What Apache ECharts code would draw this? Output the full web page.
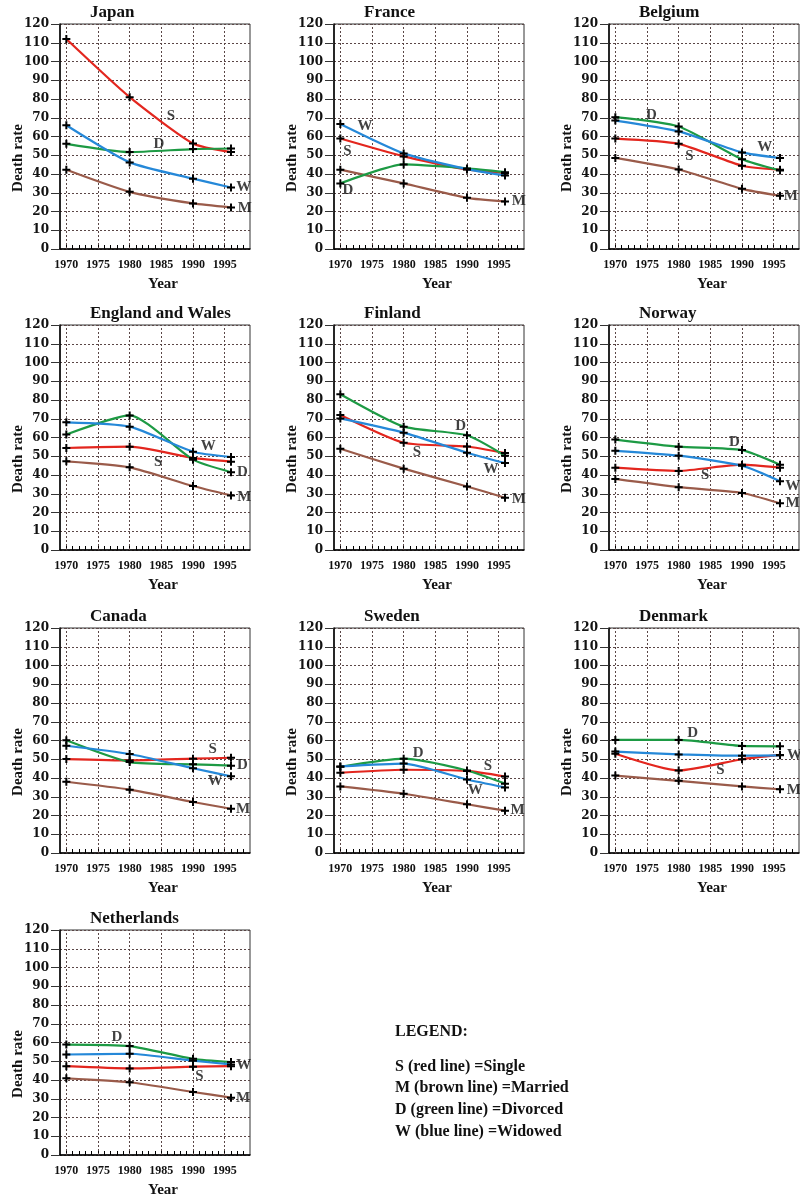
<!DOCTYPE html>
<html>
<head>
<meta charset="utf-8">
<title>Death rate by marital status</title>
<script src="https://cdn.jsdelivr.net/npm/echarts@6.0.0/dist/echarts.min.js"></script>
<style>
  html, body { margin: 0; padding: 0; background: #fff; }
  #chart { width: 800px; height: 1196px; }
</style>
</head>
<body>
<div id="chart"></div>
<script>
var years = [1970, 1980, 1990, 1996];
var yearLabels = [1970, 1975, 1980, 1985, 1990, 1995];
var countries = ['Japan', 'France', 'Belgium', 'England and Wales', 'Finland',
                 'Norway', 'Canada', 'Sweden', 'Denmark', 'Netherlands'];

var single = [
  [112, 81, 56.3, 51.7], [58.9, 49.4, 42.4, 40.5], [58.9, 56.1, 44.4, 42.3],
  [54.4, 55.1, 49.1, 47.1], [72, 57.2, 55.2, 51.7], [43.9, 42.2, 45.5, 43.9],
  [50.1, 49.4, 50.3, 50.8], [42.8, 44.4, 43.8, 40.8], [52.9, 44, 50, 52.3],
  [47.4, 46.2, 47.1, 47.4]
];
var married = [
  [42.3, 30.5, 24.3, 22.2], [42.3, 35, 27.3, 25.4], [48.6, 42.4, 32.1, 28.4],
  [47.3, 44.1, 34.1, 29.1], [54, 43.4, 33.9, 27.9], [37.9, 33.5, 30.4, 24.9],
  [38, 33.8, 27.2, 23.6], [35.5, 31.6, 26, 22.6], [41.3, 38.5, 35.5, 34],
  [40.9, 38.8, 33.6, 30.6]
];
var divorced = [
  [56.1, 51.7, 53.3, 53.6], [35, 45.1, 43, 41], [70.3, 65.3, 47.9, 41.9],
  [61.6, 71.8, 48.2, 41.5], [83.1, 65.8, 61.2, 50.3], [58.9, 55.1, 53.3, 45.5],
  [60.1, 48.5, 47.3, 46.6], [46, 50.3, 44, 37], [60.3, 60.3, 57.1, 56.9],
  [58.9, 58.1, 51.3, 49.6]
];
var widowed = [
  [66, 46.2, 37.5, 32.8], [66.7, 51, 42.6, 39.2], [68.5, 62.7, 51.5, 48.5],
  [68.1, 65.8, 52.4, 49.6], [70.2, 62.6, 51.9, 46.4], [52.9, 50.3, 45, 36.7],
  [57.2, 52.8, 45.2, 40.9], [46.2, 47.7, 39.2, 35], [54.1, 52.6, 51.9, 52.1],
  [53.6, 54, 50.3, 48.3]
];

var legendLines = ['S (red line) =Single', 'M (brown line) =Married',
                   'D (green line) =Divorced', 'W (blue line) =Widowed'];

// where the S/M/D/W letters sit in each panel (year, rate)
var tagPos = [
  [['S', 1986.5, 70.7], ['D', 1984.6, 56.1], ['W', 1998, 32.8], ['M', 1998.2, 21.8]],
  [['W', 1973.9, 65.7], ['S', 1971.1, 52], ['D', 1971.2, 31.2], ['M', 1998.2, 25.4]],
  [['D', 1975.7, 71.2], ['W', 1993.6, 54.3], ['S', 1981.7, 49.4], ['M', 1997.7, 28]],
  [['W', 1992.4, 55.2], ['S', 1984.5, 47.1], ['D', 1997.8, 41.5], ['M', 1998.1, 28.4]],
  [['D', 1989, 66.2], ['S', 1982.1, 52.4], ['W', 1993.8, 43.2], ['M', 1998.2, 27.4]],
  [['D', 1988.8, 57.7], ['S', 1984.2, 39.7], ['W', 1998, 34.1], ['M', 1998, 25.2]],
  [['S', 1993.1, 55.5], ['D', 1997.8, 46.8], ['W', 1993.5, 38.2], ['M', 1997.9, 23.6]],
  [['D', 1982.3, 53.4], ['S', 1993.3, 46.3], ['W', 1991.3, 33.4], ['M', 1998, 22.8]],
  [['D', 1982.2, 64.1], ['S', 1986.6, 44], ['W', 1998.3, 52.1], ['M', 1998.2, 33.7]],
  [['D', 1978, 62.8], ['S', 1991, 42.1], ['W', 1998, 48], ['M', 1997.9, 30.3]]
];

var serif = '"Liberation Serif", "Times New Roman", serif';
var wideSerif = '"DejaVu Serif", serif';
var colLeft = [60, 334, 609];
var rowTop = [24, 325, 628, 930];
var plotW = 190, plotH = 225;
var plus = 'path://M3,0L5,0L5,3L8,3L8,5L5,5L5,8L3,8L3,5L0,5L0,3L3,3Z';

var kinds = [
  { name: 'Single', data: single, color: '#e3261e' },
  { name: 'Married', data: married, color: '#9a5b4a' },
  { name: 'Divorced', data: divorced, color: '#1d9a44' },
  { name: 'Widowed', data: widowed, color: '#2588d8' }
];

var minorYears = [];
for (var yr = 1970; yr <= 1998; yr++) minorYears.push(yr);

var grids = [], xAxes = [], yAxes = [], series = [], titles = [], texts = [];

countries.forEach(function (country, i) {
  var L = colLeft[i % 3], T = rowTop[Math.floor(i / 3)];

  grids.push({ left: L, top: T, width: plotW, height: plotH, show: true,
               borderColor: '#333', borderWidth: 1 });
  xAxes.push({
    gridIndex: i, type: 'value', min: 1969, max: 1999,
    axisLine: { show: true, onZero: false, lineStyle: { color: '#000', width: 1.5 } },
    axisTick: { show: true, inside: true, length: 4, customValues: minorYears,
                lineStyle: { color: '#000' } },
    axisLabel: { customValues: yearLabels, margin: 10, fontFamily: serif, fontWeight: 'bold',
                 fontSize: 12, color: '#111', formatter: function (v) { return String(v); } },
    splitLine: { show: false }
  });
  yAxes.push({
    gridIndex: i, type: 'value', min: 0, max: 120, interval: 10,
    axisLine: { show: true, lineStyle: { color: '#000', width: 1.5 } },
    axisTick: { show: true, length: 9, lineStyle: { color: '#333' } },
    axisLabel: { margin: 11, fontFamily: wideSerif, fontWeight: 'bold', fontSize: 12, color: '#111' },
    splitLine: { show: true, lineStyle: { color: '#5a4646', type: [2, 2], width: 1 } }
  });

  kinds.forEach(function (k, j) {
    var s = {
      type: 'line', name: k.name, xAxisIndex: i, yAxisIndex: i,
      data: years.map(function (y, n) { return [y, k.data[i][n]]; }),
      smooth: 0.2, symbol: plus, symbolSize: 8,
      itemStyle: { color: '#000' },
      lineStyle: { color: k.color, width: 2.2 },
      z: 3
    };
    if (j === 0) {
      s.markLine = {
        silent: true, z: 1, symbol: ['none', 'none'], label: { show: false },
        lineStyle: { color: '#5a4646', type: [2, 2], width: 1 },
        data: yearLabels.map(function (v) { return { xAxis: v }; })
      };
    }
    series.push(s);
  });

  series.push({
    type: 'scatter', xAxisIndex: i, yAxisIndex: i, clip: false,
    data: tagPos[i].map(function (t) { return [t[1], t[2], t[0]]; }),
    symbolSize: 1, itemStyle: { color: 'rgba(0,0,0,0)' }, z: 4,
    label: { show: true, position: 'inside', formatter: function (p) { return p.data[2]; },
             fontFamily: serif, fontWeight: 'bold', fontSize: 15, color: '#111' }
  });

  titles.push({ text: country, left: L + 30, top: T - 20, padding: 0,
                textStyle: { fontFamily: serif, fontWeight: 'bold', fontSize: 17, color: '#111' } });

  texts.push({ type: 'text', x: L - 42, y: T + 134, rotation: Math.PI / 2,
               style: { text: 'Death rate', font: 'bold 15px ' + serif, fill: '#111',
                        align: 'center', verticalAlign: 'middle' } });
  texts.push({ type: 'text', x: L + 103, y: T + plotH + 35,
               style: { text: 'Year', font: 'bold 15px ' + serif, fill: '#111',
                        align: 'center', verticalAlign: 'middle' } });
});

texts.push({ type: 'text', x: 395, y: 1032,
             style: { text: 'LEGEND:', font: 'bold 16px ' + serif, fill: '#111',
                      align: 'left', verticalAlign: 'middle' } });
var legendY = [1067, 1088, 1110, 1132];
legendLines.forEach(function (line, n) {
  texts.push({ type: 'text', x: 395, y: legendY[n],
               style: { text: line, font: 'bold 16px ' + serif, fill: '#111',
                        align: 'left', verticalAlign: 'middle' } });
});

var chart = echarts.init(document.getElementById('chart'));
chart.setOption({
  backgroundColor: '#fff',
  animation: false,
  title: titles,
  grid: grids,
  xAxis: xAxes,
  yAxis: yAxes,
  series: series,
  graphic: texts
});
</script>
</body>
</html>
